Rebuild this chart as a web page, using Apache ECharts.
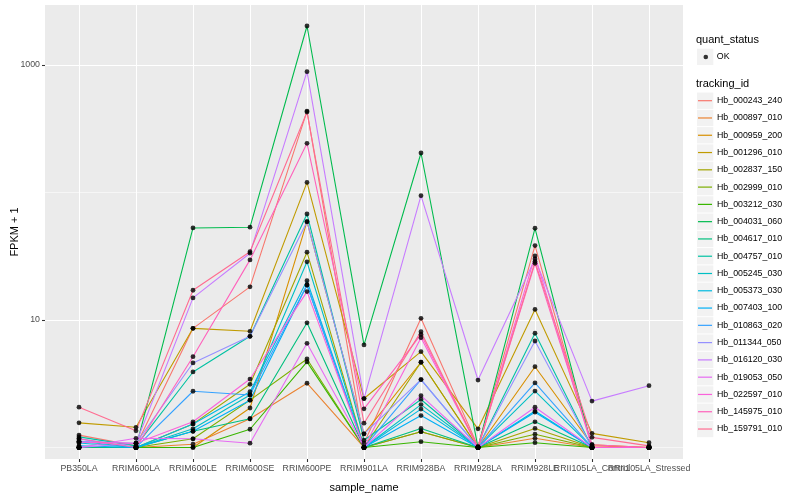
<!DOCTYPE html>
<html>
<head>
<meta charset="utf-8">
<script src="https://cdn.jsdelivr.net/npm/echarts@6.0.0/dist/echarts.min.js"></script>
<style>html,body{margin:0;padding:0;background:#fff}#c{width:800px;height:500px}</style>
</head>
<body>
<div id="c"></div>
<script>
const categories = ['PB350LA','RRIM600LA','RRIM600LE','RRIM600SE','RRIM600PE','RRIM901LA','RRIM928BA','RRIM928LA','RRIM928LE','RRII105LA_Control','RRII105LA_Stressed'];
const trackingIds = ['Hb_000243_240','Hb_000897_010','Hb_000959_200','Hb_001296_010','Hb_002837_150','Hb_002999_010','Hb_003212_030','Hb_004031_060','Hb_004617_010','Hb_004757_010','Hb_005245_030','Hb_005373_030','Hb_007403_100','Hb_010863_020','Hb_011344_050','Hb_016120_030','Hb_019053_050','Hb_022597_010','Hb_145975_010','Hb_159791_010'];
const colors = ['#F8766D','#EA8331','#D89000','#C09B00','#A3A500','#7CAE00','#39B600','#00BB4E','#00BF7D','#00C1A3','#00BFC4','#00BAE0','#00B0F6','#35A2FF','#9590FF','#C77CFF','#E76BF3','#FA62DB','#FF62BC','#FF6C91'];
const yTickLabels = [10, 1000];
const yMinorBreaks = [1, 100];

// FPKM + 1 per sample, one array per tracking_id
const hb_000243_240 = [1.25, 1.03, 8.6, 18.2, 435, 1.08, 10.3, 1.02, 38.3, 1.03, 1.0];
const hb_000897_010 = [1.0, 1.0, 1.06, 1.68, 3.19, 1.0, 1.33, 1.0, 1.18, 1.0, 1.0];
const hb_000959_200 = [1.0, 1.0, 1.0, 2.04, 59, 1.28, 4.66, 1.0, 4.30, 1.05, 1.0];
const hb_001296_010 = [1.56, 1.44, 8.6, 8.15, 120, 2.42, 5.64, 1.40, 12.1, 1.29, 1.09];
const hb_002837_150 = [1.0, 1.0, 1.53, 3.13, 34, 1.0, 4.66, 1.0, 1.41, 1.0, 1.0];
const hb_002999_010 = [1.0, 1.0, 1.17, 2.35, 4.94, 1.0, 1.33, 1.0, 1.27, 1.0, 1.0];
const hb_003212_030 = [1.0, 1.0, 1.0, 1.39, 4.69, 1.0, 1.11, 1.0, 1.09, 1.0, 1.0];
const hb_004031_060 = [1.0, 1.0, 52.7, 53.4, 2023, 6.37, 204, 1.0, 52.4, 1.0, 1.0];
const hb_004617_010 = [1.0, 1.0, 1.34, 1.68, 9.5, 1.0, 1.41, 1.0, 1.59, 1.0, 1.0];
const hb_004757_010 = [1.21, 1.03, 3.91, 7.45, 67.8, 1.14, 2.38, 1.0, 7.87, 1.0, 1.0];
const hb_005245_030 = [1.12, 1.0, 1.40, 2.58, 28.6, 1.0, 2.17, 1.0, 2.77, 1.0, 1.0];
const hb_005373_030 = [1.085, 1.0, 1.53, 2.74, 20.3, 1.0, 2.0, 1.0, 1.93, 1.0, 1.0];
const hb_007403_100 = [1.03, 1.0, 1.34, 2.35, 18.8, 1.0, 1.78, 1.0, 1.89, 1.0, 1.0];
const hb_010863_020 = [1.17, 1.0, 2.76, 2.58, 18.8, 1.0, 3.41, 1.0, 3.21, 1.0, 1.0];
const hb_011344_050 = [1.12, 1.08, 4.6, 7.45, 59, 1.28, 3.41, 1.0, 6.84, 1.0, 1.0];
const hb_016120_030 = [1.0, 1.08, 14.9, 33.4, 886, 2.42, 94.4, 3.38, 30.1, 2.31, 3.05];
const hb_019053_050 = [1.0, 1.18, 1.17, 1.08, 6.56, 1.0, 2.55, 1.0, 2.07, 1.0, 1.0];
const hb_022597_010 = [1.1, 1.08, 1.59, 3.44, 16.7, 1.0, 7.26, 1.0, 31.8, 1.0, 1.0];
const hb_145975_010 = [1.17, 1.0, 5.15, 29.6, 243, 2.01, 7.7, 1.0, 27.8, 1.05, 1.0];
const hb_159791_010 = [2.07, 1.35, 17.1, 34.3, 428, 1.55, 8.1, 1.0, 28.7, 1.2, 1.03];

const seriesValues = [hb_000243_240, hb_000897_010, hb_000959_200, hb_001296_010, hb_002837_150, hb_002999_010, hb_003212_030, hb_004031_060, hb_004617_010, hb_004757_010, hb_005245_030, hb_005373_030, hb_007403_100, hb_010863_020, hb_011344_050, hb_016120_030, hb_019053_050, hb_022597_010, hb_145975_010, hb_159791_010];

const YMIN = 0.812, YMAX = 2955;
const FONT = 'Liberation Sans';

const chart = echarts.init(document.getElementById('c'), null, {renderer: 'canvas'});

const lineSeries = trackingIds.map((id, i) => ({
  name: id,
  type: 'line',
  xAxisIndex: 1,
  yAxisIndex: 2,
  data: seriesValues[i],
  showSymbol: false,
  symbol: 'none',
  color: colors[i],
  lineStyle: {width: 1.1, color: colors[i]},
  itemStyle: {color: colors[i]},
  silent: true,
  z: 2
}));

const pointData = [];
seriesValues.forEach(vals => vals.forEach((v, j) => pointData.push([j, v])));

const keyStep = 17.28;
const firstKey = 100.7;
const graphics = [{type: 'rect', shape: {x: 697, y: 48.7, width: 16.3, height: 16.3}, style: {fill: '#F2F2F2'}, z: -1}];
trackingIds.forEach((id, i) => {
  graphics.push({type: 'rect', shape: {x: 697, y: firstKey + i * keyStep - 8.14, width: 16.3, height: 16.3}, style: {fill: '#F2F2F2'}, z: -1});
});

chart.setOption({
  animation: false,
  backgroundColor: '#ffffff',
  textStyle: {fontFamily: FONT},
  title: [
    {text: 'quant_status', left: 696, top: 34.5, textStyle: {fontSize: 11, fontWeight: 'normal', color: '#000', fontFamily: FONT}, padding: 0},
    {text: 'tracking_id', left: 696, top: 78.5, textStyle: {fontSize: 11, fontWeight: 'normal', color: '#000', fontFamily: FONT}, padding: 0}
  ],
  graphic: graphics,
  legend: [
    {
      data: ['OK'], orient: 'vertical', left: 703.5, top: 48.4, padding: 0, itemGap: 0,
      icon: 'circle', itemWidth: 12, itemHeight: 4.6, selectedMode: false,
      textStyle: {fontSize: 8.8, color: '#000', lineHeight: 17.28, fontFamily: FONT}
    },
    {
      data: trackingIds, orient: 'vertical', left: 698, top: 92.06, padding: 0, itemGap: 0,
      icon: 'rect', itemWidth: 14, itemHeight: 1.2, selectedMode: false,
      textStyle: {fontSize: 8.8, color: '#000', lineHeight: 17.28, fontFamily: FONT}
    }
  ],
  grid: [
    {left: 45, right: 117, top: 5, bottom: 41, show: true, backgroundColor: '#EBEBEB', borderWidth: 0, borderColor: 'transparent', containLabel: false, outerBoundsMode: 'none'},
    {left: 79, right: 151, top: 5, bottom: 41, show: false, containLabel: false, outerBoundsMode: 'none'}
  ],
  xAxis: [
    {type: 'value', gridIndex: 0, min: 0, max: 1, show: false},
    {
      type: 'category', gridIndex: 1, data: categories, boundaryGap: false,
      axisLine: {show: false},
      axisTick: {show: true, length: 3, lineStyle: {color: '#333333', width: 1.07}},
      axisLabel: {interval: 0, hideOverlap: false, fontSize: 8.8, color: '#4D4D4D', margin: 5, fontFamily: FONT},
      splitLine: {show: true, lineStyle: {color: '#ffffff', width: 1.07}},
      name: 'sample_name', nameLocation: 'middle', nameGap: 23, nameMoveOverlap: false,
      nameTextStyle: {fontSize: 11, color: '#000', fontFamily: FONT}
    }
  ],
  yAxis: [
    {
      type: 'log', logBase: 10, gridIndex: 0, min: YMIN, max: YMAX,
      axisLine: {show: false},
      axisTick: {show: true, length: 3, lineStyle: {color: '#333333', width: 1.07}, customValues: yTickLabels},
      axisLabel: {customValues: yTickLabels, fontSize: 8.8, color: '#4D4D4D', margin: 5, fontFamily: FONT, formatter: v => String(v)},
      splitLine: {show: true, lineStyle: {color: '#ffffff', width: 1.07}},
      minorSplitLine: {show: false},
      name: 'FPKM + 1', nameLocation: 'middle', nameGap: 25, nameRotate: 90, nameMoveOverlap: false,
      nameTextStyle: {fontSize: 11, color: '#000', fontFamily: FONT}
    },
    {
      type: 'log', logBase: 10, gridIndex: 0, min: YMIN, max: YMAX,
      axisLine: {show: false},
      axisTick: {show: false, customValues: yMinorBreaks},
      axisLabel: {show: false, customValues: yMinorBreaks},
      splitLine: {show: true, lineStyle: {color: '#ffffff', width: 0.55}}
    },
    {type: 'log', logBase: 10, gridIndex: 1, min: YMIN, max: YMAX, show: false, splitLine: {show: false}}
  ],
  series: lineSeries.concat([{
    name: 'OK', type: 'scatter', xAxisIndex: 1, yAxisIndex: 2,
    data: pointData, symbol: 'circle', symbolSize: 4.8,
    itemStyle: {color: '#000000'}, silent: true, z: 3
  }])
});
</script>
</body>
</html>
